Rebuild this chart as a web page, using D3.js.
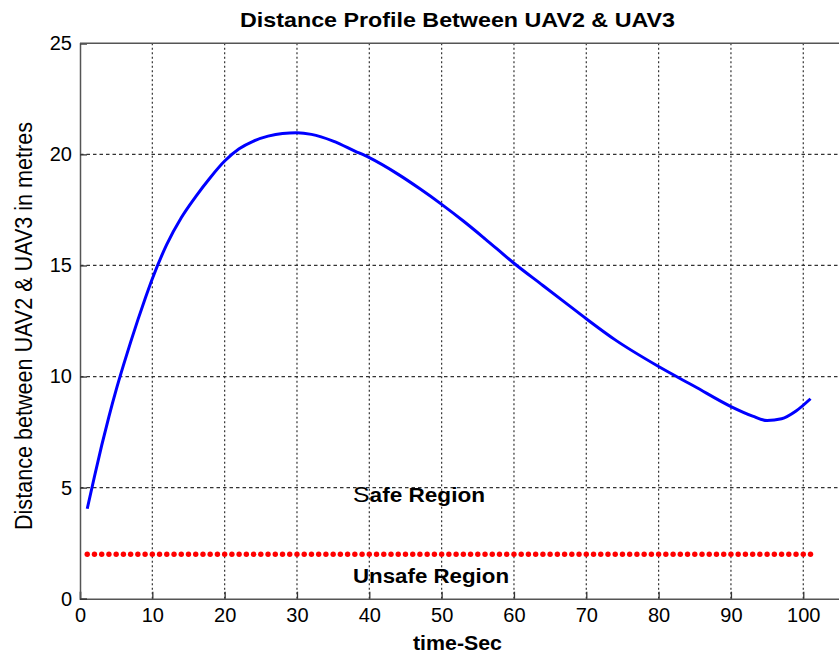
<!DOCTYPE html>
<html><head><meta charset="utf-8">
<script src="https://cdn.jsdelivr.net/npm/d3@7"></script>
<style>body{margin:0;background:#fff;overflow:hidden}svg{display:block}text{font-family:Arial,"Liberation Sans",sans-serif;fill:#000}</style>
</head><body><svg id="c" width="839" height="657"></svg>
<script>
const timeSec = [1,2,3,4,5,6,7,8,9,10,12,14,16,18,20,22,24,26,28,30,32,35,38,40,44,47,50,53,56,60,64,67,70,74,80,85,90,93,95,97,99,101];
const distance = [4.05,5.5,6.9,8.2,9.4,10.5,11.55,12.55,13.5,14.4,15.95,17.15,18.1,18.95,19.7,20.25,20.6,20.82,20.94,20.97,20.9,20.6,20.15,19.85,19.1,18.45,17.75,17.0,16.2,15.1,14.1,13.35,12.6,11.65,10.45,9.55,8.65,8.22,8.02,8.1,8.45,9.0];
const safeTimes = d3.range(1, 102);
const safeLimit = 2;
const xTicks = [0,10,20,30,40,50,60,70,80,90,100];
const yTicks = [0,5,10,15,20,25];
const titleText = "Distance Profile Between UAV2 & UAV3";
const xLabel = "time-Sec";
const yLabel = "Distance between UAV2 & UAV3 in metres";

const svg = d3.select("#c");
const x = d3.scaleLinear().domain([0,110]).range([80, 875.6]);
const y = d3.scaleLinear().domain([0,25]).range([598.7, 43.3]);

// grid
svg.append("g").selectAll("line").data(xTicks.filter(d=>d>0)).join("line")
  .attr("x1",d=>x(d)).attr("x2",d=>x(d)).attr("y1",y(0)).attr("y2",y(25))
  .attr("stroke","#333").attr("stroke-width",1.2).attr("stroke-dasharray","2,2.5");
svg.append("g").selectAll("line").data(yTicks.filter(d=>d>0&&d<25)).join("line")
  .attr("x1",x(0)).attr("x2",839).attr("y1",d=>y(d)).attr("y2",d=>y(d))
  .attr("stroke","#333").attr("stroke-width",1.2).attr("stroke-dasharray","3.5,3");

// axes
const xAxis = d3.axisBottom(x).tickValues(xTicks).tickSize(-7).tickPadding(10).tickFormat(d3.format("d"));
const gx = svg.append("g").attr("transform",`translate(0,${y(0)})`).call(xAxis);
const yAxis = d3.axisLeft(y).tickValues(yTicks).tickSize(-7).tickPadding(8).tickFormat(d3.format("d"));
const gy = svg.append("g").attr("transform",`translate(${x(0)},0)`).call(yAxis);
[gx,gy].forEach(g=>{
  g.select(".domain").attr("stroke","#555").attr("stroke-width",1.5);
  g.selectAll(".tick line").attr("stroke","#333").attr("stroke-width",1.3);
  g.selectAll(".tick text").attr("font-size",20).attr("font-family","Arial, 'Liberation Sans', sans-serif").attr("fill","#000");
});
gx.selectAll(".tick text").attr("dy","0.68em");
// top and right border
svg.append("line").attr("x1",x(0)).attr("x2",x(110)).attr("y1",y(25)).attr("y2",y(25))
  .attr("stroke","#555").attr("stroke-width",1.5);
svg.append("line").attr("x1",x(110)).attr("x2",x(110)).attr("y1",y(25)).attr("y2",y(0))
  .attr("stroke","#555").attr("stroke-width",1.5);

// safe line dots
svg.append("g").selectAll("circle").data(safeTimes).join("circle")
  .attr("cx",d=>x(d)).attr("cy",y(safeLimit)).attr("r",2.7).attr("fill","#ff0000");

// distance curve
const line = d3.line().x((d,i)=>x(timeSec[i])).y(d=>y(d)).curve(d3.curveMonotoneX);
svg.append("path").datum(distance).attr("d",line).attr("fill","none")
  .attr("stroke","#0000ff").attr("stroke-width",3);

// labels
svg.append("text").attr("x",240).attr("y",26.5).attr("font-size",21).attr("font-weight","bold")
  .attr("textLength",435).attr("lengthAdjust","spacingAndGlyphs").text(titleText);
svg.append("text").attr("x",413).attr("y",650).attr("font-size",20).attr("font-weight","bold")
  .attr("textLength",89).attr("lengthAdjust","spacingAndGlyphs").text(xLabel);
svg.append("text").attr("transform","translate(31.5,530) scale(1.12,1) rotate(-90)").attr("font-size",21)
  .attr("textLength",408).attr("lengthAdjust","spacingAndGlyphs").text(yLabel);

const safe = svg.append("text").attr("x",353).attr("y",501.5).attr("font-size",20)
  .attr("textLength",132).attr("lengthAdjust","spacingAndGlyphs");
safe.append("tspan").attr("font-weight","normal").attr("font-size",22).text("S");
safe.append("tspan").attr("font-weight","bold").text("afe Region");
svg.append("text").attr("x",353).attr("y",582.5).attr("font-size",20).attr("font-weight","bold")
  .attr("textLength",156).attr("lengthAdjust","spacingAndGlyphs").text("Unsafe Region");
</script></body></html>
